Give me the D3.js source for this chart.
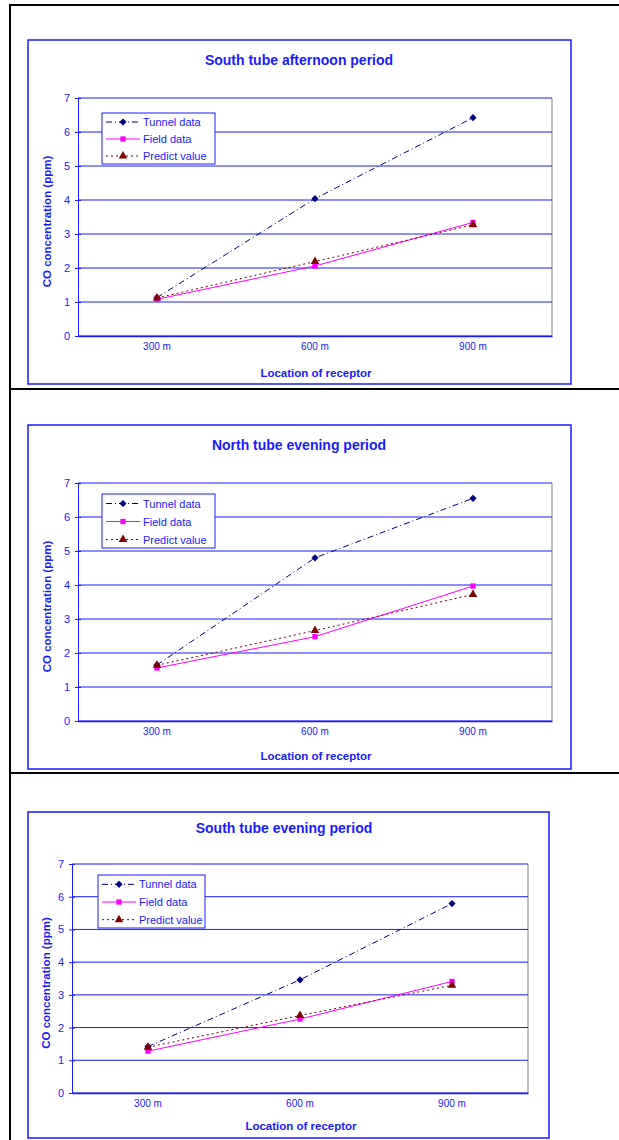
<!DOCTYPE html>
<html>
<head>
<meta charset="utf-8">
<script src="https://cdn.jsdelivr.net/npm/d3@7"></script>
<style>
  body { margin:0; background:#fff; }
  svg text { font-family: "Liberation Sans", Arial, sans-serif; }
</style>
</head>
<body>
<div class="canvas"></div>
<script>
// categories and ticks
const locations = ['300 m', '600 m', '900 m'];
const yTicks = [0, 1, 2, 3, 4, 5, 6, 7];
const seriesNames = ['Tunnel data', 'Field data', 'Predict value'];

// panel titles
const titles = ['South tube afternoon period', 'North tube evening period', 'South tube evening period'];

// values (ppm)
const southAfternoonTunnel  = [1.13, 4.04, 6.42];
const southAfternoonField   = [1.08, 2.06, 3.34];
const southAfternoonPredict = [1.12, 2.19, 3.27];

const northEveningTunnel  = [1.65, 4.8, 6.55];
const northEveningField   = [1.56, 2.48, 3.97];
const northEveningPredict = [1.64, 2.66, 3.72];

const southEveningTunnel  = [1.42, 3.46, 5.79];
const southEveningField   = [1.28, 2.26, 3.41];
const southEveningPredict = [1.4, 2.37, 3.29];

const BLUE = '#1a1aff';

//------------------------Svg container
const svg = d3.select('.canvas')
  .append('svg')
  .attr('width', 619)
  .attr('height', 1140);

// outer black page lines
const page = svg.append('g').attr('stroke', '#000').attr('stroke-width', 2);
page.append('line').attr('x1', 10).attr('x2', 10).attr('y1', 4).attr('y2', 1140);
[5, 389, 773].forEach(y => {
  page.append('line').attr('x1', 9).attr('x2', 619).attr('y1', y).attr('y2', y);
});

// panel layouts (frame + plot area)
const panels = [
  { frame: {x:28, y:40, w:543, h:344}, plot: {x:78, y:98, w:474, h:238},
    legend: {x:102, y:113, w:113, h:51}, titleY:60, xLabY:373, yLabX:47,
    data: [southAfternoonTunnel, southAfternoonField, southAfternoonPredict] },
  { frame: {x:28, y:425, w:543, h:344}, plot: {x:78, y:483, w:474, h:238},
    legend: {x:102, y:494, w:113, h:54}, titleY:445, xLabY:756, yLabX:47,
    data: [northEveningTunnel, northEveningField, northEveningPredict] },
  { frame: {x:28, y:812, w:521, h:326}, plot: {x:72, y:864, w:456, h:229},
    legend: {x:98, y:875, w:107, h:53}, titleY:828, xLabY:1126, yLabX:46,
    data: [southEveningTunnel, southEveningField, southEveningPredict] }
];

const styles = [
  { color:'#000080', dash:'6,3,1,3', marker:'diamond' },
  { color:'#ff00ff', dash:null, marker:'square' },
  { color:'#800000', dash:'2,3', marker:'triangle' }
];

// marker shapes, small like the spreadsheet ones
const symbolFor = (m) => {
  if (m === 'diamond') return 'M0,-3.6L3.6,0L0,3.6L-3.6,0Z';
  if (m === 'square') return d3.symbol().type(d3.symbolSquare).size(28)();
  return d3.symbol().type(d3.symbolTriangle).size(32)();
};

const drawPanel = (p, idx) => {
  const g = svg.append('g');

  // blue chart frame
  g.append('rect')
    .attr('x', p.frame.x).attr('y', p.frame.y)
    .attr('width', p.frame.w).attr('height', p.frame.h)
    .attr('fill', '#fff').attr('stroke', BLUE).attr('stroke-width', 1.5);

  const x = d3.scaleBand().domain(locations)
    .range([p.plot.x, p.plot.x + p.plot.w]);
  const y = d3.scaleLinear().domain([0, 7])
    .range([p.plot.y + p.plot.h, p.plot.y]);

  // right grey border of plot area
  g.append('line')
    .attr('x1', p.plot.x + p.plot.w).attr('x2', p.plot.x + p.plot.w)
    .attr('y1', p.plot.y).attr('y2', p.plot.y + p.plot.h)
    .attr('stroke', '#808080');

  // gridlines
  g.selectAll('.grid').data(yTicks).enter().append('line')
    .attr('x1', p.plot.x).attr('x2', p.plot.x + p.plot.w)
    .attr('y1', d => y(d)).attr('y2', d => y(d))
    .attr('stroke', BLUE).attr('stroke-width', 1);

  // y axis (ticks cross the axis line)
  const yAxis = d3.axisLeft(y).tickValues(yTicks).tickSize(3).tickFormat(d3.format('d'));
  const ya = g.append('g').attr('transform', `translate(${p.plot.x},0)`).call(yAxis);
  ya.select('.domain').attr('stroke', BLUE);
  ya.selectAll('line').attr('stroke', BLUE).attr('x2', -3).attr('x1', 3);
  ya.selectAll('text').attr('fill', BLUE).style('font-size', '11px').attr('x', -8);

  // x axis
  const xAxis = d3.axisBottom(x).tickSize(0);
  const xa = g.append('g').attr('transform', `translate(0,${p.plot.y + p.plot.h})`).call(xAxis);
  xa.select('.domain').attr('stroke', BLUE).attr('stroke-width', 1.5);
  xa.selectAll('text').attr('fill', BLUE).style('font-size', '10px').attr('dy', '1.1em');

  // title and axis titles
  g.append('text')
    .attr('x', p.plot.x + p.plot.w / 2 - 16).attr('y', p.titleY + 5)
    .attr('text-anchor', 'middle').attr('fill', BLUE)
    .style('font-size', '14px').style('font-weight', 'bold')
    .text(titles[idx]);
  g.append('text')
    .attr('x', p.plot.x + p.plot.w / 2 + 1).attr('y', p.xLabY + 4)
    .attr('text-anchor', 'middle').attr('fill', BLUE)
    .style('font-size', '11.5px').style('font-weight', 'bold')
    .text('Location of receptor');
  g.append('text')
    .attr('transform', `translate(${p.yLabX + 4},${p.plot.y + p.plot.h / 2 + 4.5}) rotate(-90)`)
    .attr('text-anchor', 'middle').attr('fill', BLUE)
    .style('font-size', '11.5px').style('font-weight', 'bold')
    .text('CO concentration (ppm)');

  // series lines + markers
  const line = d3.line()
    .x((d, i) => x(locations[i]) + x.bandwidth() / 2)
    .y(d => y(d));

  p.data.forEach((vals, s) => {
    const st = styles[s];
    g.append('path').datum(vals)
      .attr('d', line)
      .attr('fill', 'none')
      .attr('stroke', st.color)
      .attr('stroke-width', 1)
      .attr('stroke-dasharray', st.dash);
    g.selectAll('.m' + s).data(vals).enter().append('path')
      .attr('d', symbolFor(st.marker))
      .attr('transform', (d, i) => `translate(${x(locations[i]) + x.bandwidth() / 2},${y(d)})`)
      .attr('fill', st.color);
  });

  // legend
  const lg = g.append('g').attr('transform', `translate(${p.legend.x},${p.legend.y})`);
  lg.append('rect').attr('width', p.legend.w).attr('height', p.legend.h)
    .attr('fill', '#fff').attr('stroke', BLUE).attr('stroke-width', 1);
  const rowH = p.legend.h / 3;
  seriesNames.forEach((name, s) => {
    const st = styles[s];
    const cy = rowH * s + rowH / 2 + 0.5;
    lg.append('line').attr('x1', 4).attr('x2', 38).attr('y1', cy).attr('y2', cy)
      .attr('stroke', st.color).attr('stroke-dasharray', st.dash);
    lg.append('path').attr('d', symbolFor(st.marker))
      .attr('transform', `translate(21,${cy})`).attr('fill', st.color);
    lg.append('text').attr('x', 41).attr('y', cy + 4)
      .attr('fill', BLUE).style('font-size', '11px').text(name);
  });
};

panels.forEach(drawPanel);
</script>
</body>
</html>
